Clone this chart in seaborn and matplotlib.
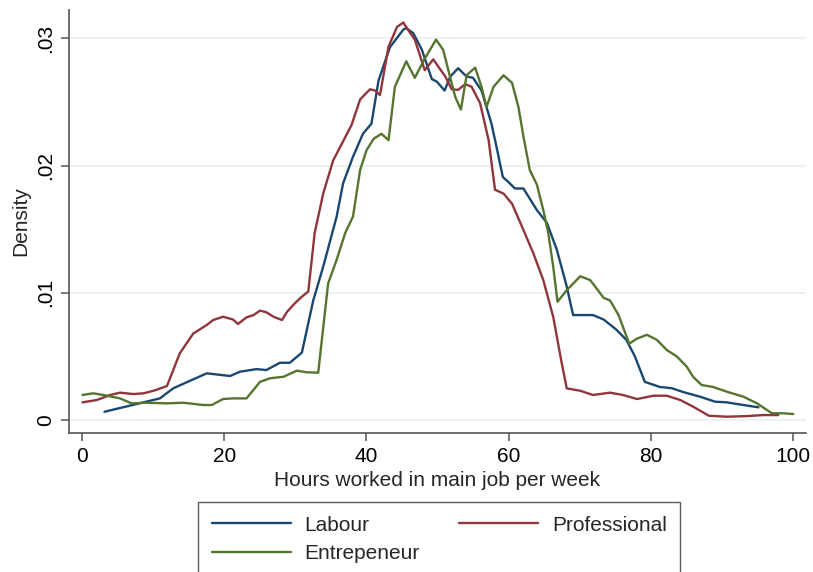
import numpy as np
import pandas as pd
import matplotlib
matplotlib.use("Agg")
import matplotlib.pyplot as plt
import seaborn as sns

# ---- data (density values) ----
labour_x = [3.1, 10.9, 12.8, 17.5, 20.8, 22.2, 24.5, 25.9, 27.8, 29.2, 30.9, 32.5, 33.9, 35.8,
            36.7, 38.1, 39.5, 40.7, 41.7, 43.3, 45.2, 45.6, 46.6, 47.8, 49.2, 49.9, 51.0, 51.8,
            52.9, 54.1, 55.0, 56.2, 57.6, 58.3, 59.2, 60.0, 60.9, 62.1, 64.0, 65.4, 66.8, 68.2,
            69.1, 71.9, 73.4, 75.2, 76.6, 77.8, 79.2, 81.3, 83.0, 84.6, 87.0, 89.1, 90.7, 93.1, 95.2]
labour_y = [0.65, 1.7, 2.5, 3.67, 3.46, 3.8, 4.0, 3.93, 4.5, 4.5, 5.3, 9.4, 12.05, 16.0,
            18.6, 20.7, 22.5, 23.3, 26.7, 29.3, 30.7, 30.8, 30.4, 29.1, 26.8, 26.6, 25.9, 27.0,
            27.65, 27.0, 26.9, 25.9, 23.3, 21.5, 19.1, 18.7, 18.2, 18.2, 16.5, 15.5, 13.4, 10.5,
            8.25, 8.25, 7.9, 7.1, 6.3, 5.0, 3.0, 2.6, 2.5, 2.2, 1.83, 1.44, 1.39, 1.18, 1.0]

prof_x = [0.0, 2.0, 3.9, 5.3, 7.2, 8.6, 10.0, 11.9, 13.7, 15.6, 17.5, 18.4, 19.8, 21.2, 21.9,
          23.1, 24.1, 25.0, 25.9, 26.9, 28.1, 28.8, 29.9, 30.9, 31.8, 32.7, 33.9, 35.3, 36.7,
          37.9, 39.1, 40.5, 41.2, 41.9, 43.1, 44.3, 45.2, 45.4, 46.8, 48.2, 49.4, 51.1, 52.0,
          52.9, 53.9, 54.8, 56.0, 57.2, 58.1, 59.3, 60.5, 61.9, 63.5, 64.9, 66.3, 67.5, 68.2,
          70.1, 71.9, 74.3, 76.1, 78.1, 80.4, 82.3, 84.2, 86.0, 88.2, 90.7, 93.6, 95.9, 98.0]
prof_y = [1.39, 1.57, 1.97, 2.15, 2.04, 2.1, 2.3, 2.67, 5.24, 6.8, 7.47, 7.86, 8.12, 7.9, 7.55,
          8.07, 8.25, 8.6, 8.47, 8.12, 7.86, 8.5, 9.17, 9.7, 10.1, 14.7, 17.8, 20.4, 21.9,
          23.2, 25.2, 26.0, 25.9, 25.55, 29.35, 30.9, 31.25, 31.05, 29.9, 27.5, 28.35, 27.0, 26.0,
          25.95, 26.4, 26.2, 24.9, 22.0, 18.1, 17.8, 17.0, 15.2, 13.1, 11.0, 8.1, 4.46, 2.49,
          2.3, 1.97, 2.15, 1.97, 1.65, 1.91, 1.91, 1.57, 1.05, 0.34, 0.26, 0.31, 0.39, 0.39]

entre_x = [0.0, 1.5, 2.9, 5.3, 6.9, 9.0, 11.9, 14.2, 17.0, 18.2, 19.8, 21.2, 23.1, 25.0, 26.4,
           28.3, 30.2, 31.6, 33.2, 34.6, 35.8, 37.0, 38.1, 39.1, 40.0, 41.0, 42.1, 43.1, 44.0,
           45.6, 46.8, 48.2, 49.8, 50.8, 51.8, 52.5, 53.3, 54.1, 55.3, 56.2, 56.9, 57.9, 59.3,
           60.5, 61.4, 62.1, 63.0, 64.0, 64.9, 65.6, 66.3, 66.9, 68.2, 70.1, 71.5, 72.6, 73.4,
           74.3, 75.5, 77.0, 78.1, 79.5, 80.9, 82.3, 83.7, 85.1, 86.0, 87.2, 88.8, 90.9, 93.1,
           95.0, 97.1, 98.7, 100.1]
entre_y = [1.97, 2.1, 1.97, 1.7, 1.31, 1.36, 1.31, 1.36, 1.18, 1.18, 1.65, 1.7, 1.7, 3.0, 3.28,
           3.4, 3.88, 3.75, 3.72, 10.75, 12.6, 14.7, 16.0, 19.65, 21.2, 22.1, 22.5, 22.0, 26.2,
           28.2, 26.9, 28.4, 29.9, 29.1, 26.9, 25.4, 24.4, 27.1, 27.7, 26.2, 24.6, 26.2, 27.1,
           26.5, 24.6, 22.3, 19.65, 18.5, 16.5, 14.7, 12.05, 9.3, 10.2, 11.3, 11.0, 10.2, 9.6,
           9.4, 8.25, 6.0, 6.4, 6.7, 6.3, 5.5, 5.0, 4.2, 3.4, 2.75, 2.6, 2.2, 1.83,
           1.31, 0.53, 0.53, 0.47]

series_names = ["Labour", "Professional", "Entrepeneur"]
x_ticks = [0, 20, 40, 60, 80, 100]
y_ticks = [0, 0.01, 0.02, 0.03]
y_tick_labels = ["0", ".01", ".02", ".03"]

# ---- build table ----
frames = []
for name, xs, ys in zip(series_names, [labour_x, prof_x, entre_x], [labour_y, prof_y, entre_y]):
    frames.append(pd.DataFrame({"hours": xs, "density": np.array(ys) / 1000.0, "group": name}))
df = pd.concat(frames, ignore_index=True)

sns.set_theme(style="white")
plt.rcParams["font.family"] = ["Liberation Sans", "DejaVu Sans"]

palette = {"Labour": "#1a476f", "Professional": "#90353b", "Entrepeneur": "#55752f"}

fig = plt.figure(figsize=(8.13, 5.72), dpi=100)
ax = fig.add_axes([69 / 813, 1 - 433 / 572, (806 - 69) / 813, (433 - 10) / 572])

sns.lineplot(data=df, x="hours", y="density", hue="group", palette=palette,
             estimator=None, sort=False, linewidth=1.7, ax=ax, hue_order=series_names)

ax.set_xlim(-1.9, 101.9)
ax.set_ylim(-0.00102, 0.03223)
ax.set_xticks(x_ticks)
ax.set_xticklabels([str(t) for t in x_ticks], fontsize=15)
ax.set_yticks(y_ticks)
ax.set_yticklabels(y_tick_labels, fontsize=15, rotation=90, va="center")
ax.yaxis.grid(True, color="#eaf2f3", linewidth=1.4)
ax.xaxis.grid(False)
ax.set_axisbelow(True)
for s in ["top", "right"]:
    ax.spines[s].set_visible(False)
for s in ["left", "bottom"]:
    ax.spines[s].set_color("#555555")
    ax.spines[s].set_linewidth(1.2)
ax.tick_params(axis="both", which="both", direction="out", length=6, width=1.1,
               color="#555555", labelcolor="black", pad=4, bottom=True, left=True)
ax.set_xlabel("Hours worked in main job per week", fontsize=15, labelpad=4)
ax.set_ylabel("Density", fontsize=15, labelpad=4)

handles, labels = ax.get_legend_handles_labels()
hmap = dict(zip(labels, handles))
ax.get_legend().remove()
order = ["Labour", "Entrepeneur", "Professional"]
leg = fig.legend([hmap[k] for k in order], order, ncol=2, loc="upper left",
                 bbox_to_anchor=(198 / 813, 1 - 502 / 572), borderaxespad=0.0,
                 fontsize=15, frameon=True, fancybox=False, handlelength=3.8,
                 handletextpad=0.65, columnspacing=1.9, borderpad=0.65, labelspacing=0.45)
leg.get_frame().set_edgecolor("#333333")
leg.get_frame().set_linewidth(1.0)
for line in leg.get_lines():
    line.set_linewidth(1.7)

fig.savefig("out.png", dpi=100)
